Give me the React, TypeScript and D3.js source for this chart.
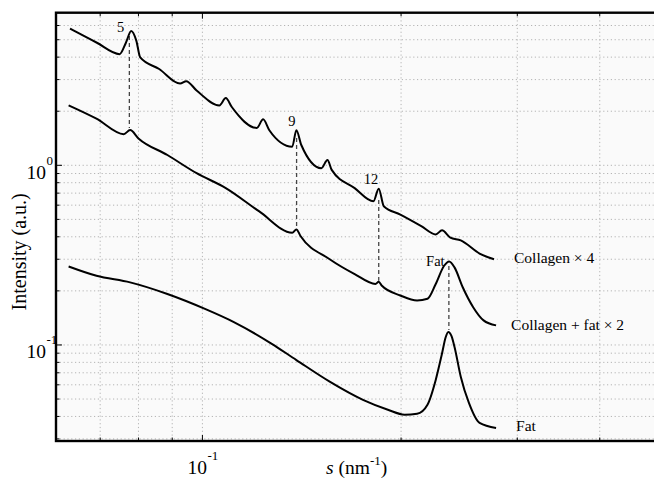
import * as d3 from "d3";
import React from "react";

// scattering vector s (nm^-1) and intensity (a.u.)
const sCollagen = [0.063, 0.0691, 0.0749, 0.0766, 0.078, 0.0794, 0.0805, 0.086, 0.0925, 0.0945, 0.098, 0.1061, 0.1085, 0.1108, 0.1209, 0.1236, 0.1263, 0.1368, 0.1388, 0.1412, 0.1514, 0.1547, 0.157, 0.1701, 0.1816, 0.185, 0.1883, 0.1995, 0.2146, 0.2257, 0.2307, 0.2375, 0.2463, 0.263, 0.2766];
const iCollagen = [5.764, 4.825, 4.157, 4.825, 5.596, 4.943, 3.985, 3.435, 2.85, 2.94, 2.608, 2.154, 2.366, 2.111, 1.615, 1.803, 1.568, 1.269, 1.568, 1.297, 0.9635, 1.07, 0.9428, 0.7467, 0.6306, 0.7409, 0.5913, 0.5316, 0.4588, 0.4125, 0.4343, 0.3954, 0.382, 0.3226, 0.2998];

const sMix = [0.0627, 0.0691, 0.076, 0.0777, 0.08, 0.0885, 0.098, 0.1085, 0.1218, 0.1368, 0.1388, 0.1408, 0.1559, 0.1701, 0.1829, 0.185, 0.1869, 0.1995, 0.2115, 0.2193, 0.2257, 0.2324, 0.2365, 0.241, 0.248, 0.2572, 0.2667, 0.2786];
const iMix = [2.158, 1.819, 1.491, 1.57, 1.412, 1.141, 0.9038, 0.7467, 0.5553, 0.4215, 0.4398, 0.4041, 0.3001, 0.2481, 0.2185, 0.225, 0.2141, 0.1886, 0.1767, 0.1807, 0.2185, 0.2759, 0.2915, 0.2703, 0.2095, 0.1623, 0.137, 0.1285];

const sFat = [0.0627, 0.0691, 0.0777, 0.0885, 0.1009, 0.1116, 0.1272, 0.1388, 0.1559, 0.1751, 0.191, 0.2025, 0.2115, 0.2193, 0.2257, 0.2307, 0.2336, 0.2358, 0.2385, 0.241, 0.2463, 0.2535, 0.263, 0.2786];
const iFat = [0.2734, 0.2427, 0.223, 0.1922, 0.1588, 0.1341, 0.1018, 0.0824, 0.0625, 0.0495, 0.0436, 0.0409, 0.0414, 0.0465, 0.0639, 0.0896, 0.11, 0.1181, 0.112, 0.0975, 0.0666, 0.0474, 0.0368, 0.0345];

const seriesNames = ["Collagen \u00d7 4", "Collagen + fat \u00d7 2", "Fat"];

// dashed guides linking the peaks
const guideS = [0.0775, 0.1389, 0.185, 0.2363];
const guideTop = [5.24, 1.419, 0.641, 0.2752];
const guideBottom = [1.613, 0.4422, 0.2275, 0.1212];

// peak labels
const peakNames = ["5", "9", "12", "Fat"];
const peakS = [0.078, 0.1388, 0.185, 0.2365];
const peakI = [5.596, 1.568, 0.7409, 0.2915];

const xMajor = [0.1];
const xMajorExp = ["-1"];
const yMajor = [1, 0.1];
const yMajorExp = ["0", "-1"];

const W = 654;
const H = 478;
const left = 56;
const top = 12.7;
const bottom = 441;
const right = 663.7;
const serif = "'Liberation Serif', 'Times New Roman', serif";

export default function App() {
  const x = d3.scaleLog().domain([0.06, 0.5]).range([left, right]);
  const y = d3.scaleLog().domain([0.0292, 7.07]).range([bottom, top]);

  const line = d3
    .line<[number, number]>()
    .x((d) => x(d[0]))
    .y((d) => y(d[1]))
    .curve(d3.curveMonotoneX);

  const series = [
    d3.zip(sCollagen, iCollagen) as [number, number][],
    d3.zip(sMix, iMix) as [number, number][],
    d3.zip(sFat, iFat) as [number, number][],
  ];

  const xTicks = x.ticks().filter((t) => t > 0.0601 && t < 0.499);
  const yTicks = y.ticks().filter((t) => t > 0.0293 && t < 7.0);
  const isMajor = (t: number) => Math.abs(Math.log10(t) - Math.round(Math.log10(t))) < 1e-6;

  const seriesOffset = [
    [20, 4],
    [15, 5],
    [20, 3],
  ];
  const peakOffset = [
    [-7, 1],
    [-1, -4],
    [-0.5, -4.5],
    [-4.5, 4.5],
  ];

  return (
    <svg
      width={W}
      height={H}
      style={{ position: "fixed", left: 0, top: 0, background: "#fff" }}
      fontFamily={serif}
    >
      <defs>
        <clipPath id="plot">
          <rect x={left} y={top} width={right - left} height={bottom - top} />
        </clipPath>
      </defs>
      <rect x={left} y={top} width={right - left} height={bottom - top} fill="#fafafa" />

      {/* dotted grid */}
      <g stroke="#b4b4b4" strokeWidth={1} strokeDasharray="1.2,2.6">
        {xTicks.map((t) => (
          <line key={"gx" + t} x1={x(t)} x2={x(t)} y1={top} y2={bottom} />
        ))}
        {yTicks.map((t) => (
          <line key={"gy" + t} x1={left} x2={right} y1={y(t)} y2={y(t)} />
        ))}
      </g>

      {/* ticks, inward on all sides */}
      <g stroke="#000" strokeWidth={1}>
        {xTicks.map((t) => {
          const len = isMajor(t) ? 6 : 3.5;
          return (
            <g key={"tx" + t}>
              <line x1={x(t)} x2={x(t)} y1={bottom} y2={bottom - len} />
              <line x1={x(t)} x2={x(t)} y1={top} y2={top + len} />
            </g>
          );
        })}
        {yTicks.map((t) => {
          const len = isMajor(t) ? 6 : 3.5;
          return <line key={"ty" + t} x1={left} x2={left + len} y1={y(t)} y2={y(t)} />;
        })}
      </g>

      <g clipPath="url(#plot)">
        {/* dashed peak guides */}
        <g stroke="#444" strokeWidth={1.3} strokeDasharray="4,3">
          {guideS.map((s, i) => (
            <line key={"gd" + i} x1={x(s)} x2={x(s)} y1={y(guideTop[i])} y2={y(guideBottom[i])} />
          ))}
        </g>
        {series.map((d, i) => (
          <path key={"s" + i} d={line(d) || ""} fill="none" stroke="#000" strokeWidth={2} strokeLinejoin="round" />
        ))}
      </g>

      {/* frame */}
      <rect x={left} y={top} width={right - left} height={bottom - top} fill="none" stroke="#000" strokeWidth={2.4} />

      {/* peak labels */}
      <g fontSize={14.5} fill="#000">
        {peakNames.map((n, i) => (
          <text key={"p" + i} x={x(peakS[i]) + peakOffset[i][0]} y={y(peakI[i]) + peakOffset[i][1]} textAnchor="end">
            {n}
          </text>
        ))}
      </g>

      {/* series labels */}
      <g fontSize={15.5} fill="#000">
        {series.map((d, i) => {
          const last = d[d.length - 1];
          return (
            <text key={"n" + i} x={x(last[0]) + seriesOffset[i][0]} y={y(last[1]) + seriesOffset[i][1]}>
              {seriesNames[i]}
            </text>
          );
        })}
      </g>

      {/* tick labels */}
      <g fill="#000">
        {xMajor.map((t, i) => (
          <g key={"xl" + t}>
            <text x={x(t) - 15} y={474} fontSize={19.5}>
              10
            </text>
            <text x={x(t) + 5} y={460} fontSize={13}>
              {xMajorExp[i]}
            </text>
          </g>
        ))}
        {yMajor.map((t, i) => (
          <g key={"yl" + t}>
            <text x={46} y={y(t) + 13.5} fontSize={19.5} textAnchor="end">
              10
            </text>
            <text x={46.5} y={y(t) - 0.5} fontSize={13}>
              {yMajorExp[i]}
            </text>
          </g>
        ))}
      </g>

      {/* axis titles */}
      <text x={326} y={474} fontSize={19.5} fill="#000">
        <tspan fontStyle="italic">s</tspan>
        <tspan> (nm</tspan>
        <tspan fontSize={13} dy={-9}>
          -1
        </tspan>
        <tspan dy={9}>)</tspan>
      </text>
      <text
        transform={`translate(25.5, ${(top + bottom) / 2 + 25}) rotate(-90)`}
        textAnchor="middle"
        fontSize={20}
        fill="#000"
      >
        Intensity (a.u.)
      </text>
    </svg>
  );
}
